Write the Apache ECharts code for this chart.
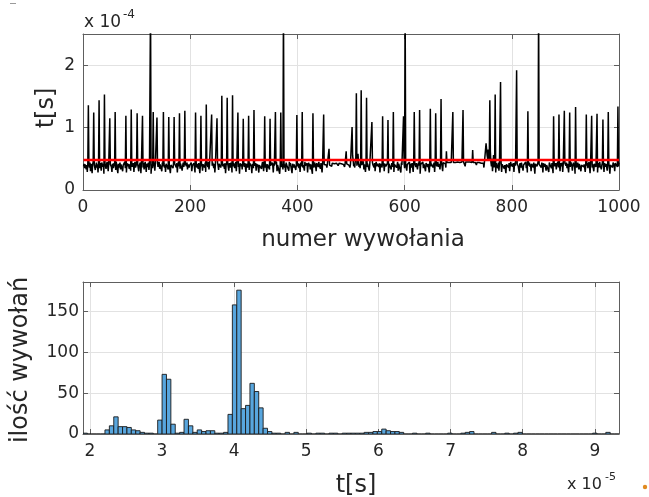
<!DOCTYPE html>
<html><head><meta charset="utf-8">
<script src="https://cdn.jsdelivr.net/npm/echarts@6/dist/echarts.min.js"></script>
<style>html,body{margin:0;padding:0;background:#fff}#c{width:649px;height:497px}</style>
</head><body><div id="c"></div>
<script>
// czas wywołania, jednostki 1e-6 s (tło szumu)
const baseline = [
38,42,35,41,44,33,40,29,43,39, 41,36,44,30,42,38,27,41,45,37, 40,43,32,39,44,36,41,28,42,40, 35,43,39,31,44,41,37,42,26,40, 43,38,34,41,45,39,30,42,40,36,
41,44,37,29,42,40,35,43,38,41, 32,45,39,41,27,42,36,40,44,33, 41,38,43,30,40,42,37,45,35,41, 28,43,40,38,42,34,41,44,31,39, 42,37,40,43,29,41,45,36,39,42,
35,41,43,30,40,38,44,27,42,39, 41,36,43,33,40,45,38,29,42,41, 37,44,32,40,42,39,26,41,43,35, 40,38,44,31,42,39,41,28,43,37, 40,45,34,41,39,42,30,44,38,41,
43,36,40,29,42,44,38,41,33,45, 39,42,27,40,43,37,41,35,44,30, 42,39,41,36,43,28,40,45,38,41, 34,42,40,43,31,39,44,37,41,26, 42,40,38,44,33,41,43,36,40,39,
41,44,30,39,42,37,43,40,28,41, 45,36,42,39,34,43,41,27,40,44, 38,42,31,41,43,39,36,44,29,40, 42,41,37,45,33,40,43,38,42,30, 39,44,41,35,42,28,40,43,37,41,
44,39,32,42,40,43,36,41,29,45, 38,42,41,34,43,27,40,44,37,42, 39,31,43,41,36,44,40,28,42,38, 43,41,35,40,45,30,42,39,44,37, 41,26,43,40,38,42,33,44,39,41,
37,43,40,29,42,44,36,41,39,32, 43,40,45,38,27,42,41,35,44,39, 40,43,31,42,37,41,44,28,40,43, 38,42,34,41,45,39,30,43,40,36, 42,44,29,41,38,43,40,33,42,39,
41,36,44,40,28,43,39,42,35,41, 45,30,40,43,38,42,26,41,44,37, 39,42,33,40,43,36,41,29,44,40, 38,42,41,31,45,39,43,37,40,27, 42,44,36,41,39,43,32,40,42,38,
43,40,35,42,29,44,41,38,43,36, 40,42,31,45,39,41,37,43,28,40, 44,38,42,33,41,43,39,26,42,40, 36,44,41,38,30,43,40,42,37,45, 39,41,34,43,40,28,42,44,38,41,
42,39,44,40,36,42,43,41,42,40, 43,42,41,38,43,42,44,41,42,43, 40,42,43,42,41,39,42,43,42,44, 41,42,40,43,42,41,43,37,42,41, 43,42,44,41,42,40,43,36,41,42,
44,40,55,48,38,42,36,47,52,41, 39,43,58,45,37,41,35,44,50,40, 42,38,46,33,41,44,29,40,43,37, 42,39,45,31,40,43,38,41,27,44, 40,42,36,43,30,41,45,38,42,39,
41,37,43,28,42,40,44,36,41,39, 43,30,42,45,38,41,35,43,40,27, 42,44,39,41,33,43,40,37,44,29, 41,42,38,43,36,40,45,31,42,39, 43,41,28,44,40,37,42,39,43,35,
40,42,44,31,41,38,43,39,45,27, 42,40,36,43,41,29,44,38,42,40, 37,43,41,33,40,44,39,42,26,41, 43,38,40,45,35,42,39,41,30,43, 40,44,37,42,39,28,41,43,38,42,
41,43,36,40,44,29,42,39,43,38, 41,45,37,42,40,33,43,41,44,42, 30,44,45,44,43,42,36,45,44,43, 44,45,44,43,44,45,44,44,43,45, 44,43,44,45,44,43,44,44,45,43,
44,45,44,43,44,44,45,43,44,45, 44,43,38,45,44,44,43,45,44,43, 44,45,44,43,45,44,43,44,45,44, 43,44,44,40,44,43,44,45,44,43, 44,45,43,44,44,45,43,36,45,44,
48,60,72,55,50,65,58,47,52,62, 45,38,50,30,42,56,36,44,40,28, 43,39,41,35,44,31,42,40,37,43, 29,41,44,38,42,34,40,43,27,41, 44,39,42,36,43,30,40,45,38,41,
42,37,43,29,40,44,39,41,33,42, 45,38,40,27,43,41,36,44,39,42, 31,40,43,38,41,45,35,42,28,40, 43,39,44,37,41,30,42,40,43,36, 44,41,26,42,39,43,38,40,45,33,
41,43,39,42,36,44,40,28,43,41, 37,42,45,31,40,43,38,41,29,44, 42,39,40,35,43,41,27,42,44,38, 40,43,33,41,39,45,36,42,40,30, 43,41,38,44,29,42,40,37,43,41,
39,44,35,42,40,28,43,41,37,45, 42,39,31,40,44,38,42,26,41,43, 36,40,44,39,33,42,41,45,30,40, 43,38,42,37,41,44,29,40,42,39, 43,35,41,45,38,27,42,40,44,36,
41,43,30,42,39,44,37,40,42,28, 43,41,36,45,39,42,33,40,44,38, 41,29,43,40,37,42,45,31,41,39, 44,42,26,40,43,38,41,36,44,42, 39,30,43,41,40,45,37,42,38,44
];
// piki: [indeks, wartość w 1e-6 s]
const peaks = [[9,136],[19,124],[29,144],[39,153],[49,115],[59,125],[79,119],[89,129],[100,123],[110,119],
[125,300],[130,125],[137,116],[149,125],[159,117],[169,117],[179,123],[189,127],[209,124],[219,119],[229,137],
[239,121],[249,115],[258,151],[268,148],[278,152],[288,124],[298,114],[308,119],[318,128],[338,118],[348,114],
[358,125],[368,124],[373,300],[398,120],[408,125],[428,123],[448,121],[458,66],[490,62],[501,101],[509,155],
[518,160],[528,148],[538,109],[558,118],[568,112],[578,125],[597,118],[600,300],[617,125],[627,128],[647,130],
[657,123],[667,146],[677,62],[689,125],[708,128],[726,64],[751,75],[758,144],[768,153],[778,173],[808,192],
[829,126],[849,300],[877,118],[887,121],[897,127],[907,124],[918,133],[938,121],[948,119],[958,122],[969,113],
[979,125],[997,134]];
const meanValue = 48;
// histogram (oś w jednostkach 1e-5 s)
const histBinStart = 1.905;
const histBinWidth = 0.0609;
const histCounts = [1,0,0,0,0,5,10,21,9,9, 8,5,4,2,1,1,0,17,73,67, 12,1,2,18,10,2,5,3,4,4, 1,1,2,24,158,176,31,35,62,52,
32,7,3,1,1,0,2,0,2,0, 0,1,0,1,1,0,1,1,0,1, 1,1,1,1,2,2,3,3,6,4, 3,3,2,0,0,1,0,0,1,0,
0,0,0,1,0,0,1,2,3,0, 0,0,0,2,0,0,1,0,1,2, 0,0,0,0,0,0,0,0,0,0, 0,0,0,0,0,0,1,0,0,2, 0,0];

const values = baseline.slice();
peaks.forEach(p => { values[p[0]] = p[1]; });
const lineData = values.map((v, i) => [i + 1, v]);
const histData = histCounts.map((c, k) => [histBinStart + k * histBinWidth, histBinStart + (k + 1) * histBinWidth, c]);

const FONT = 'DejaVu Sans', TXT = '#262626', AX = '#5e5e5e', GRIDC = '#e2e2e2';
const isInt = v => Math.abs(v - Math.round(v)) < 1e-6;
function ax(extra) {
  return Object.assign({
    type: 'value',
    axisLine: { show: true, onZero: false, lineStyle: { color: AX, width: 1 } },
    axisTick: { show: true, inside: true, length: 5, lineStyle: { color: AX, width: 1 } },
    axisLabel: { show: false },
    splitLine: { show: false }
  }, extra);
}
const lbl = (fmt, margin) => ({ show: true, color: TXT, fontSize: 17, fontFamily: FONT, margin: margin, formatter: fmt, showMinLabel: true, showMaxLabel: false });

const chart = echarts.init(document.getElementById('c'), null, { renderer: 'canvas' });
chart.setOption({
  animation: false,
  backgroundColor: '#fff',
  grid: [
    { left: 83, top: 34, width: 536, height: 156 },
    { left: 83, top: 282, width: 536, height: 152 }
  ],
  xAxis: [
    ax({ gridIndex: 0, position: 'bottom', min: 0, max: 1000, interval: 200,
         axisLabel: Object.assign(lbl(v => String(v), 9), { showMaxLabel: true }),
         splitLine: { show: true, lineStyle: { color: GRIDC, width: 1 } } }),
    ax({ gridIndex: 0, position: 'top', min: 0, max: 1000, interval: 200 }),
    ax({ gridIndex: 1, position: 'bottom', min: 1.905, max: 9.335, splitNumber: 8, minInterval: 1, maxInterval: 1,
         axisLabel: Object.assign(lbl(v => isInt(v) ? String(Math.round(v)) : '', 9), { showMinLabel: false }),
         splitLine: { show: true, lineStyle: { color: GRIDC, width: 1 } } }),
    ax({ gridIndex: 1, position: 'top', min: 1.905, max: 9.335, splitNumber: 8, minInterval: 1, maxInterval: 1 })
  ],
  yAxis: [
    ax({ gridIndex: 0, position: 'left', min: 0, max: 250, interval: 100,
         axisLabel: lbl(v => v % 100 === 0 ? String(v / 100) : '', 8),
         splitLine: { show: true, lineStyle: { color: GRIDC, width: 1 } } }),
    ax({ gridIndex: 0, position: 'right', min: 0, max: 250, interval: 100 }),
    ax({ gridIndex: 1, position: 'left', min: 0, max: 186, interval: 50,
         axisLabel: lbl(v => v % 50 === 0 ? String(v) : '', 4),
         splitLine: { show: true, lineStyle: { color: GRIDC, width: 1 } } }),
    ax({ gridIndex: 1, position: 'right', min: 0, max: 186, interval: 50 })
  ],
  series: [
    { type: 'line', xAxisIndex: 0, yAxisIndex: 0, data: lineData, showSymbol: false, symbol: 'none',
      lineStyle: { color: '#000', width: 1.5 }, clip: true, sampling: null, z: 2 },
    { type: 'line', xAxisIndex: 0, yAxisIndex: 0, data: [[1, meanValue], [1000, meanValue]], showSymbol: false, symbol: 'none',
      lineStyle: { color: '#ff0000', width: 2.4 }, z: 3 },
    { type: 'custom', xAxisIndex: 2, yAxisIndex: 2, data: histData, encode: { x: [0, 1], y: 2 }, clip: true, z: 2,
      renderItem: function (params, api) {
        const p0 = api.coord([api.value(0), api.value(2)]);
        const p1 = api.coord([api.value(1), 0]);
        return { type: 'rect', shape: { x: p0[0], y: p0[1], width: p1[0] - p0[0], height: p1[1] - p0[1] },
                 style: { fill: '#58a6de', stroke: '#1a1a1a', lineWidth: 0.9 } };
      } }
  ],
  graphic: [
    { type: 'text', left: 84, top: 14, style: { text: 'x 10', fill: TXT, font: '17px "DejaVu Sans"' } },
    { type: 'text', left: 123, top: 9, style: { text: '-4', fill: TXT, font: '12px "DejaVu Sans"' } },
    { type: 'text', left: 567, top: 477, style: { text: 'x 10', fill: TXT, font: '16px "DejaVu Sans"' } },
    { type: 'text', left: 605, top: 472, style: { text: '-5', fill: TXT, font: '11px "DejaVu Sans"' } },
    { type: 'text', x: 47, y: 108, rotation: Math.PI / 2, style: { text: 't[s]', fill: TXT, font: '24px "DejaVu Sans"', textAlign: 'center', textVerticalAlign: 'middle' } },
    { type: 'text', x: 363, y: 240, style: { text: 'numer wywołania', fill: TXT, font: '23px "DejaVu Sans"', textAlign: 'center', textVerticalAlign: 'middle' } },
    { type: 'text', x: 21, y: 360, rotation: Math.PI / 2, style: { text: 'ilość wywołań', fill: TXT, font: '24px "DejaVu Sans"', textAlign: 'center', textVerticalAlign: 'middle' } },
    { type: 'text', x: 356, y: 486, style: { text: 't[s]', fill: TXT, font: '24px "DejaVu Sans"', textAlign: 'center', textVerticalAlign: 'middle' } },
    { type: 'rect', shape: { x: 10, y: 3, width: 6, height: 1 }, style: { fill: '#9a9a9a' } },
    { type: 'circle', shape: { cx: 645, cy: 487, r: 2.2 }, style: { fill: '#e08a20' } }
  ]
});
</script></body></html>
